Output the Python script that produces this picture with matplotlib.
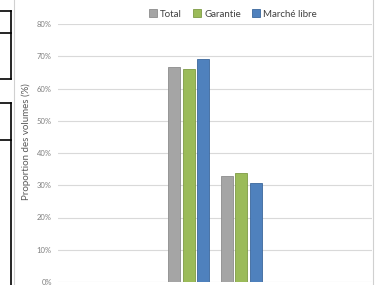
import matplotlib.pyplot as plt
from matplotlib.lines import Line2D
import numpy as np

# categories (labels sit below the cropped area)
categories = ['', '', '', '', '', '']
total = [np.nan, np.nan, 66.7, 33.0, np.nan, np.nan]
garantie = [np.nan, np.nan, 66.0, 33.8, np.nan, np.nan]
marche_libre = [np.nan, np.nan, 69.2, 30.6, np.nan, np.nan]
series_names = ['Total', 'Garantie', 'Marché libre']
yticks = [0, 10, 20, 30, 40, 50, 60, 70, 80]

colors = ['#A5A5A5', '#9BBB59', '#4F81BD']
edges = ['#8C8C8C', '#7E9B45', '#3B679C']

W, H = 377, 285
fig = plt.figure(figsize=(W / 100, H / 100), dpi=100)
plt.rcParams['font.family'] = ['Lato', 'DejaVu Sans']

ax = fig.add_axes([58 / W, 1 - 282 / H, (372 - 58) / W, (282 - 24) / H])
x = np.arange(len(categories))
width = 0.23
offsets = [-0.275, 0.0, 0.275]
for vals, name, c, ec, off in zip([total, garantie, marche_libre], series_names, colors, edges, offsets):
    ax.bar(x + off, vals, width, color=c, edgecolor=ec, linewidth=0.6, label=name, zorder=3)

ax.set_xlim(-0.5, len(categories) - 0.5)
ax.set_ylim(0, 80)
ax.set_yticks(yticks)
ax.set_yticklabels([f'{t}%' for t in yticks], fontsize=5.5, color='#7F7F7F')
ax.set_xticks(x)
ax.set_xticklabels(categories)
ax.tick_params(axis='both', length=0, pad=4.5)
ax.grid(axis='y', color='#D9D9D9', linewidth=0.8, zorder=0)
for s in ax.spines.values():
    s.set_visible(False)
ax.set_ylabel('Proportion des volumes (%)', fontsize=7, color='#595959')
ax.yaxis.set_label_coords(-0.086, 0.545)

leg = fig.legend(loc='center', bbox_to_anchor=(233 / W, 1 - 14 / H), ncol=3, frameon=False,
                 fontsize=7, handlelength=0.8, handleheight=0.8, handletextpad=0.3,
                 columnspacing=1.2, labelcolor='#404040')

# chart frame and surrounding document borders
def fline(xs, ys, **kw):
    fig.add_artist(Line2D([v / W for v in xs], [1 - v / H for v in ys], transform=fig.transFigure, **kw))

fline([13.5, 13.5], [0, H], color='#D0D0D0', lw=0.8)
fline([373, 373], [0, H], color='#D0D0D0', lw=0.8)
blk = dict(color='black', lw=1.2)
fline([0, 10.5], [10.5, 10.5], **blk)
fline([10.5, 10.5], [10.5, 79], **blk)
fline([0, 10.5], [33, 33], **blk)
fline([0, 10.5], [79, 79], **blk)
fline([0, 10.5], [103, 103], **blk)
fline([10.5, 10.5], [103, H], **blk)
fline([0, 10.5], [140, 140], **blk)

fig.savefig('out.png', dpi=100)
